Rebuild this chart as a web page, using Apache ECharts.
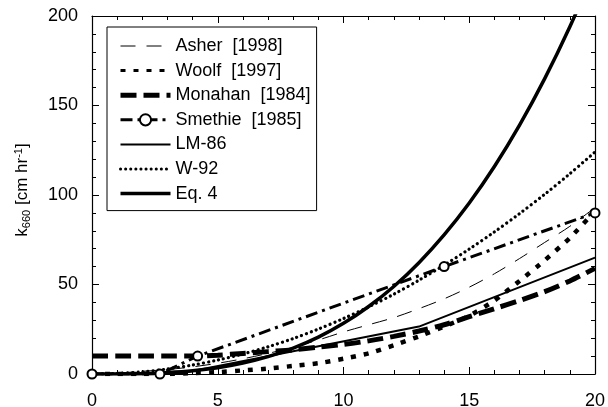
<!DOCTYPE html>
<html>
<head>
<meta charset="utf-8">
<script src="https://cdn.jsdelivr.net/npm/echarts@6/dist/echarts.min.js"></script>
<style>
  html, body { margin: 0; padding: 0; background: #fff; }
  #chart { width: 608px; height: 407px; }
</style>
</head>
<body>
<div id="chart"></div>
<script>
// wind speed (m/s) and k660 values
var wind = [0, 1, 2, 3, 4, 5, 6, 7, 8, 9, 10, 11, 12, 13, 14, 15, 16, 17, 18, 19, 20];
var asher = [0, 0.5, 1.5, 2.5, 4, 6, 8.5, 11.5, 15, 19, 23.5, 27.5, 31.5, 36.5, 42, 48.5, 56, 64.5, 73.5, 82.5, 93];
var woolf = [0, 0, 0, 0, 0.5, 1, 2, 3, 4.5, 6, 8.5, 11.5, 16, 21, 26.5, 32.5, 41, 52, 63.5, 76, 91];
var monahan = [10, 10, 10, 10, 10, 10.5, 11.5, 12.5, 13.5, 15, 16.5, 18.5, 21, 24, 27.5, 32, 36.5, 41, 46, 52, 59];
var smethieX = [0, 2.7, 4.2, 14, 20];
var smethieY = [0, 0, 10, 60, 90];
var lmX = [0, 3.6, 13, 20];
var lmY = [0, 0.6, 26.5, 65];
var w92 = [0, 0.3, 1.2, 2.8, 5, 7.8, 11.2, 15.2, 19.8, 25.1, 31, 37.5, 44.6, 52.4, 60.8, 69.8, 79.4, 89.6, 100.4, 111.9, 124];
var eq4 = [0, 0, 0.2, 0.8, 1.8, 3.5, 6.1, 9.7, 14.5, 20.6, 28.3, 37.7, 48.9, 62.2, 77.7, 95.5, 115.9, 139, 165, 194, 226];

var names = ['Asher  [1998]', 'Woolf  [1997]', 'Monahan  [1984]', 'Smethie  [1985]', 'LM-86', 'W-92', 'Eq. 4'];

function pairs(xs, ys) {
    var out = [];
    for (var i = 0; i < xs.length; i++) {
        out.push([xs[i], ys[i]]);
    }
    return out;
}

var font = 'Liberation Sans, Arial, Helvetica, sans-serif';

function axisX(pos, labels) {
    return {
        type: 'value', min: 0, max: 20, interval: 5, position: pos,
        axisLine: { show: true, onZero: false, lineStyle: { color: '#000', width: 1.2 } },
        axisTick: { show: true, inside: true, length: 7, lineStyle: { color: '#000', width: 1 } },
        minorTick: { show: true, splitNumber: 5, length: 4, lineStyle: { color: '#000', width: 1 } },
        splitLine: { show: false },
        axisLabel: { show: labels, color: '#000', fontSize: 18, fontFamily: font, margin: 18 }
    };
}

function axisY(pos, labels) {
    return {
        type: 'value', min: 0, max: 200, interval: 50, position: pos,
        axisLine: { show: true, onZero: false, lineStyle: { color: '#000', width: 1.2 } },
        axisTick: { show: true, inside: true, length: 7, lineStyle: { color: '#000', width: 1 } },
        minorTick: { show: true, splitNumber: 5, length: 4, lineStyle: { color: '#000', width: 1 } },
        splitLine: { show: false },
        axisLabel: { show: labels, color: '#000', fontSize: 18, fontFamily: font, margin: 14 }
    };
}

var yName = axisY('left', true);
yName.name = 'k{sub|660} [cm hr{sup|-1}]';
yName.nameLocation = 'middle';
yName.nameGap = 60;
yName.nameTextStyle = {
    color: '#000', fontSize: 17, fontFamily: font, padding: [0, 0, 0, 10],
    rich: {
        sub: { fontSize: 11, verticalAlign: 'bottom', padding: [8, 0, 0, 0], fontFamily: font },
        sup: { fontSize: 11, verticalAlign: 'top', padding: [0, 0, 8, 0], fontFamily: font }
    }
};

// legend: line sample only, no dot, except Smethie which keeps its circle
var noDot = { opacity: 0 };

var chart = echarts.init(document.getElementById('chart'));
var option = {
    backgroundColor: '#fff',
    animation: false,
    color: ['#000'],
    grid: { left: 92, right: 13, top: 16, bottom: 33, containLabel: false, outerBoundsMode: 'none' },
    legend: {
        orient: 'vertical',
        left: 107,
        top: 27,
        padding: [9, 6, 7, 11],
        itemWidth: 50,
        itemHeight: 14,
        itemGap: 4.6,
        borderColor: '#000',
        borderWidth: 1,
        backgroundColor: '#fff',
        textStyle: { color: '#000', fontSize: 18, fontFamily: font, lineHeight: 20 },
        data: [
            { name: names[0], itemStyle: noDot, lineStyle: { width: 1 } },
            { name: names[1], itemStyle: noDot, lineStyle: { width: 3 } },
            { name: names[2], itemStyle: noDot, lineStyle: { width: 5 } },
            { name: names[3], lineStyle: { width: 3 } },
            { name: names[4], itemStyle: noDot, lineStyle: { width: 2 } },
            { name: names[5], itemStyle: noDot, lineStyle: { width: 3 } },
            { name: names[6], itemStyle: noDot, lineStyle: { width: 3.5 } }
        ]
    },
    xAxis: [axisX('bottom', true), axisX('top', false)],
    yAxis: [yName, axisY('right', false)],
    series: [
        {
            name: names[0], type: 'line', symbol: 'none', smooth: 0.3, clip: true,
            data: pairs(wind, asher),
            itemStyle: { color: '#000' },
            lineStyle: { color: '#000', width: 1, type: [15, 11] }
        },
        {
            name: names[1], type: 'line', symbol: 'none', smooth: 0.15, clip: true,
            data: pairs(wind, woolf),
            itemStyle: { color: '#000' },
            lineStyle: { color: '#000', width: 4.5, type: [5, 8] }
        },
        {
            name: names[2], type: 'line', symbol: 'none', smooth: 0.3, clip: true,
            data: pairs(wind, monahan),
            itemStyle: { color: '#000' },
            lineStyle: { color: '#000', width: 5, type: [16, 7] }
        },
        {
            name: names[3], type: 'line', symbol: 'emptyCircle', symbolSize: 9, clip: true,
            data: pairs(smethieX, smethieY),
            itemStyle: { color: '#000', borderWidth: 1.2 },
            lineStyle: { color: '#000', width: 3, type: [12, 5, 3, 5] }
        },
        {
            name: names[4], type: 'line', symbol: 'none', clip: true,
            data: pairs(lmX, lmY),
            itemStyle: { color: '#000' },
            lineStyle: { color: '#000', width: 2 }
        },
        {
            name: names[5], type: 'line', symbol: 'none', smooth: 0.3, clip: true,
            data: pairs(wind, w92),
            itemStyle: { color: '#000' },
            lineStyle: { color: '#000', width: 3.2, type: [0.1, 5], cap: 'round' }
        },
        {
            name: names[6], type: 'line', symbol: 'none', smooth: 0.3, clip: true,
            data: pairs(wind, eq4),
            itemStyle: { color: '#000' },
            lineStyle: { color: '#000', width: 3.5 }
        }
    ]
};
chart.setOption(option);
</script>
</body>
</html>
